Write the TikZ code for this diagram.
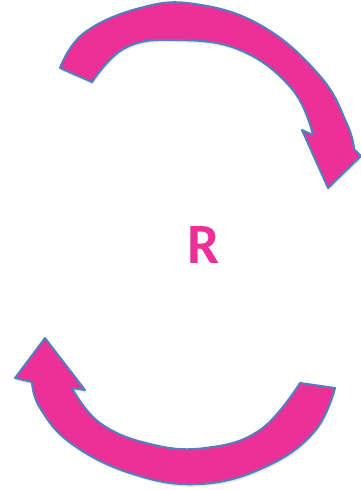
\documentclass[tikz,border=0pt]{standalone}
\usepackage{fontspec}
\setmainfont{Carlito}
\usepackage{tikz}
\usetikzlibrary{shadows}
\definecolor{epink}{RGB}{236,48,152}
\definecolor{eblue}{RGB}{79,129,189}

\begin{document}
\begin{tikzpicture}[x=1pt, y=-1pt,
    pinkarrow/.style = {draw=eblue, fill=epink, line width=2pt, line join=round,
        drop shadow={opacity=0.18, shadow xshift=1pt, shadow yshift=-2.5pt}},
    letter/.style = {text=epink, font=\fontsize{57}{60}\selectfont\bfseries, inner sep=0pt}]
    \useasboundingbox (0,0) rectangle (361,490);
    % upper arrow, from tail to head
    \draw[pinkarrow] (60,68)
        -- plot[smooth, tension=0.7] coordinates {(60,68) (84,33) (140,8) (195,4) (262,26) (320,76) (347,124) (354,149)}
        -- (361,156) -- (328,188) -- (302,130) -- (313,135)
        -- plot[smooth, tension=0.7] coordinates {(313,135) (292,89) (240,50) (175,40) (125,48) (92,82)}
        -- cycle;
    % lower arrow, from tail to head
    \draw[pinkarrow] (335,388)
        -- plot[smooth, tension=0.7] coordinates {(335,388) (314,432) (265,467) (200,484) (133,474) (72,444) (40,408) (32,382)}
        -- (15,378) -- (45,338) -- (85,390) -- (72,388)
        -- plot[smooth, tension=0.7] coordinates {(72,388) (100,423) (150,444) (205,448) (260,430) (300,383)}
        -- cycle;
    \node[letter] (r) at (204,245) {R};
\end{tikzpicture}
\end{document}
